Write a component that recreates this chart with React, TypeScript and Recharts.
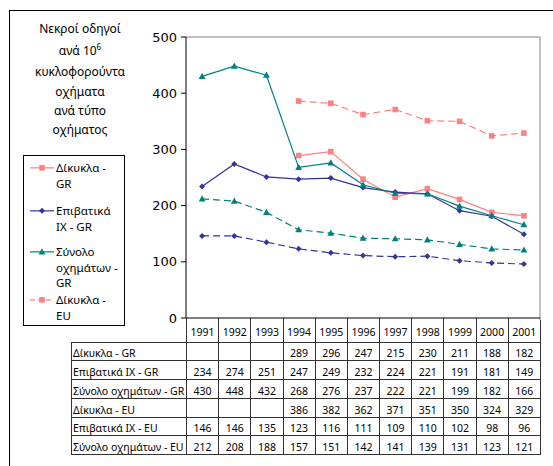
import React from "react";
import { LineChart, Line, XAxis, YAxis, ReferenceLine } from "recharts";

const years = ["1991", "1992", "1993", "1994", "1995", "1996", "1997", "1998", "1999", "2000", "2001"];
const dikyklaGR = [null, null, null, 289, 296, 247, 215, 230, 211, 188, 182];
const epivatikaGR = [234, 274, 251, 247, 249, 232, 224, 221, 191, 181, 149];
const synoloGR = [430, 448, 432, 268, 276, 237, 222, 221, 199, 182, 166];
const dikyklaEU = [null, null, null, 386, 382, 362, 371, 351, 350, 324, 329];
const epivatikaEU = [146, 146, 135, 123, 116, 111, 109, 110, 102, 98, 96];
const synoloEU = [212, 208, 188, 157, 151, 142, 141, 139, 131, 123, 121];
const yTicks = [0, 100, 200, 300, 400, 500];

const titleLines = ["Νεκροί οδηγοί", "ανά 10", "κυκλοφορούντα", "οχήματα", "ανά τύπο", "οχήματος"];

type Shape = "square" | "diamond" | "triangle";
type Series = {
  key: string;
  name: string;
  legend: string[];
  values: (number | null)[];
  color: string;
  dash?: string;
  shape: Shape;
};

const series: Series[] = [
  { key: "dGR", name: "Δίκυκλα - GR", legend: ["Δίκυκλα -", "GR"], values: dikyklaGR, color: "#ff8080", shape: "square" },
  { key: "eGR", name: "Επιβατικά ΙΧ - GR", legend: ["Επιβατικά", "ΙΧ - GR"], values: epivatikaGR, color: "#333399", shape: "diamond" },
  { key: "sGR", name: "Σύνολο οχημάτων - GR", legend: ["Σύνολο", "οχημάτων -", "GR"], values: synoloGR, color: "#008080", shape: "triangle" },
  { key: "dEU", name: "Δίκυκλα - EU", legend: ["Δίκυκλα -", "EU"], values: dikyklaEU, color: "#ff8080", dash: "7 4", shape: "square" },
  { key: "eEU", name: "Επιβατικά ΙΧ - EU", legend: ["Επιβατικά", "ΙΧ - EU"], values: epivatikaEU, color: "#333399", dash: "7 4", shape: "diamond" },
  { key: "sEU", name: "Σύνολο οχημάτων - EU", legend: ["Σύνολο", "οχημάτων -", "EU"], values: synoloEU, color: "#008080", dash: "7 4", shape: "triangle" },
];

const data = years.map((year, i) => {
  const row: Record<string, string | number | null> = { year };
  series.forEach((s) => (row[s.key] = s.values[i]));
  return row;
});

const comic = "'Noto Sans', 'DejaVu Sans', sans-serif";

function marker(shape: Shape, color: string, cx: number, cy: number, key?: string | number) {
  if (shape === "square") {
    return <rect key={key} x={cx - 2.8} y={cy - 2.8} width={5.6} height={5.6} fill={color} />;
  }
  if (shape === "diamond") {
    return <path key={key} d={`M${cx},${cy - 3}L${cx + 3},${cy}L${cx},${cy + 3}L${cx - 3},${cy}Z`} fill={color} />;
  }
  return <path key={key} d={`M${cx},${cy - 3.6}L${cx + 3.4},${cy + 2.6}L${cx - 3.4},${cy + 2.6}Z`} fill={color} />;
}

function makeDot(s: Series) {
  return (props: any) => {
    const { cx, cy, index, value } = props;
    if (value == null || cx == null || cy == null) return <g key={`${s.key}-${index}`} />;
    return marker(s.shape, s.color, cx, cy, `${s.key}-${index}`);
  };
}

const legendTops = [4, 47, 88, 136];
const legendLine = 15.7;
const colW = 354 / 11;

export default function App() {
  return (
    <div
      style={{
        position: "absolute",
        left: 0,
        top: 0,
        width: 553,
        height: 466,
        overflow: "hidden",
        background: "#fff",
      }}
    >
      {/* outer frame, cut off on the right and bottom */}
      <div
        style={{
          position: "absolute",
          left: 9,
          top: 10,
          width: 600,
          height: 500,
          borderLeft: "1px solid #000",
          borderTop: "1px solid #000",
        }}
      />

      {titleLines.map((t, i) => (
        <div
          key={t}
          style={{
            position: "absolute",
            left: 20,
            width: 120,
            top: [21, 43, 64, 84, 103, 122][i],
            textAlign: "center",
            fontFamily: comic,
            fontSize: 12,
            lineHeight: "16px",
            color: "#000",
          }}
        >
          {t}
          {i === 1 && <sup style={{ fontSize: 8, lineHeight: 0 }}>6</sup>}
        </div>
      ))}

      {/* legend */}
      <div
        style={{
          position: "absolute",
          left: 23,
          top: 155,
          width: 100,
          height: 169,
          border: "1px solid #000",
          overflow: "hidden",
          background: "#fff",
        }}
      >
        {series.slice(0, 4).map((s, i) => (
          <div key={s.key} style={{ position: "absolute", left: 0, top: legendTops[i], width: 100 }}>
            <svg width={28} height={16} style={{ position: "absolute", left: 5, top: 0 }}>
              <line
                x1={1}
                x2={25}
                y1={legendLine / 2}
                y2={legendLine / 2}
                stroke={s.color}
                strokeWidth={1.2}
                strokeDasharray={s.dash ? "5 3" : undefined}
              />
              {marker(s.shape, s.color, 13, legendLine / 2)}
            </svg>
            <div
              style={{
                position: "absolute",
                left: 32,
                top: 0,
                fontFamily: comic,
                fontSize: 11.5,
                lineHeight: `${legendLine}px`,
                whiteSpace: "nowrap",
                color: "#000",
              }}
            >
              {s.legend.map((l) => (
                <div key={l}>{l}</div>
              ))}
            </div>
          </div>
        ))}
      </div>

      {/* data table */}
      <table
        style={{
          position: "absolute",
          left: 71,
          top: 318,
          width: 115 + 354,
          borderCollapse: "collapse",
          tableLayout: "fixed",
          fontFamily: comic,
          fontSize: 10.5,
          color: "#000",
        }}
      >
        <colgroup>
          <col style={{ width: 115 }} />
          {years.map((y) => (
            <col key={y} style={{ width: colW }} />
          ))}
        </colgroup>
        <tbody>
          <tr style={{ height: 24 }}>
            <td style={{ borderBottom: "1px solid #333", padding: 0 }} />
            {years.map((y) => (
              <td
                key={y}
                style={{
                  borderLeft: "1px solid #333",
                  borderRight: "1px solid #333",
                  borderBottom: "1px solid #333",
                  textAlign: "center",
                  padding: "4px 0 0 0",
                }}
              >
                {y}
              </td>
            ))}
          </tr>
          {series.map((s) => (
            <tr key={s.key} style={{ height: 18.8 }}>
              <td
                style={{
                  border: "1px solid #333",
                  padding: "3px 0 0 1px",
                  whiteSpace: "nowrap",
                  overflow: "hidden",
                  verticalAlign: "bottom",
                  lineHeight: "14px",
                }}
              >
                {s.name}
              </td>
              {s.values.map((v, i) => (
                <td
                  key={i}
                  style={{
                    border: "1px solid #333",
                    textAlign: "center",
                    padding: "3px 0 0 0",
                    verticalAlign: "bottom",
                    lineHeight: "14px",
                  }}
                >
                  {v ?? ""}
                </td>
              ))}
            </tr>
          ))}
        </tbody>
      </table>

      {/* plot area border (top and right) */}
      <div
        style={{
          position: "absolute",
          left: 186,
          top: 36,
          width: 353,
          height: 282,
          borderTop: "2px solid #c0c0c0",
          borderRight: "2px solid #c0c0c0",
          pointerEvents: "none",
        }}
      />

      <LineChart
        width={553}
        height={466}
        data={data}
        margin={{ top: 37, right: 13, bottom: 148, left: 136 }}
        style={{ position: "absolute", left: 0, top: 0 }}
      >
        <XAxis dataKey="year" hide padding={{ left: colW / 2, right: colW / 2 }} />
        <YAxis
          width={50}
          domain={[0, 500]}
          ticks={yTicks}
          interval={0}
          tickSize={5}
          tickMargin={4}
          axisLine={{ stroke: "#000" }}
          tickLine={{ stroke: "#000" }}
          tick={{ fill: "#000", fontSize: 13, fontFamily: "'DejaVu Sans', sans-serif" }}
        />
        <ReferenceLine y={0} stroke="#000" strokeWidth={1.2} />
        {series.map((s) => (
          <Line
            key={s.key}
            dataKey={s.key}
            name={s.name}
            stroke={s.color}
            strokeWidth={1.2}
            strokeDasharray={s.dash}
            dot={makeDot(s)}
            activeDot={false}
            connectNulls={false}
            isAnimationActive={false}
          />
        ))}
      </LineChart>
    </div>
  );
}
